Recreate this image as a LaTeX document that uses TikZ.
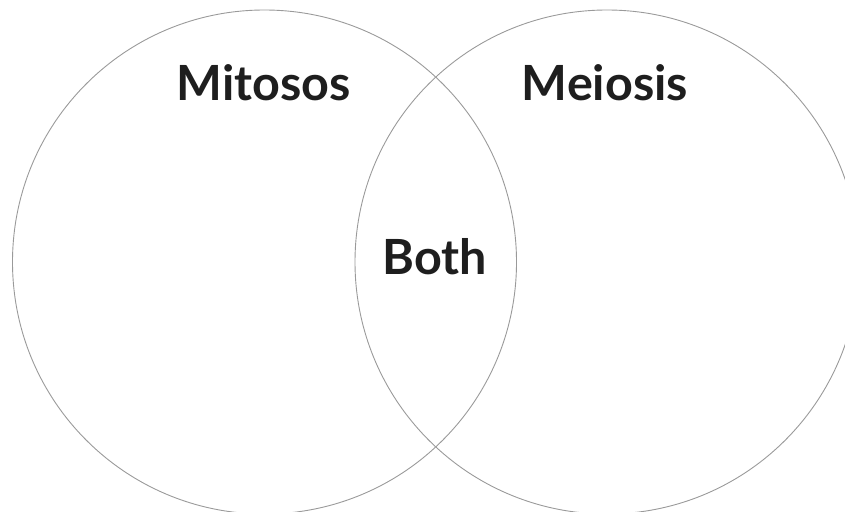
\documentclass[tikz,border=0pt]{standalone}
\usepackage{fontspec}
\setmainfont{Lato}
\usetikzlibrary{positioning}
\definecolor{ringgray}{HTML}{9A9A9A}
\definecolor{inkdark}{HTML}{1E1E1E}
\tikzset{
  ring/.style={circle, draw=ringgray, line width=0.9pt, minimum size=504pt, inner sep=0pt},
  setlabel/.style={font=\fontsize{48.5}{54}\selectfont\bfseries, text=inkdark, inner sep=0pt},
}
\begin{document}
\begin{tikzpicture}[x=1pt, y=-1pt]
  \clip (0,0) rectangle (845,511);
  \useasboundingbox (0,0) rectangle (845,511);

  \node[ring] (mitosis) at (264.5,262) {};
  \node[ring] (meiosis) at (607,262) {};

  \node[setlabel] (mitlbl) at (264,83) {Mitosos};
  \node[setlabel] (meilbl) at (605,83) {Meiosis};
  \node[setlabel] (both) at (435,257) {Both};
\end{tikzpicture}
\end{document}
